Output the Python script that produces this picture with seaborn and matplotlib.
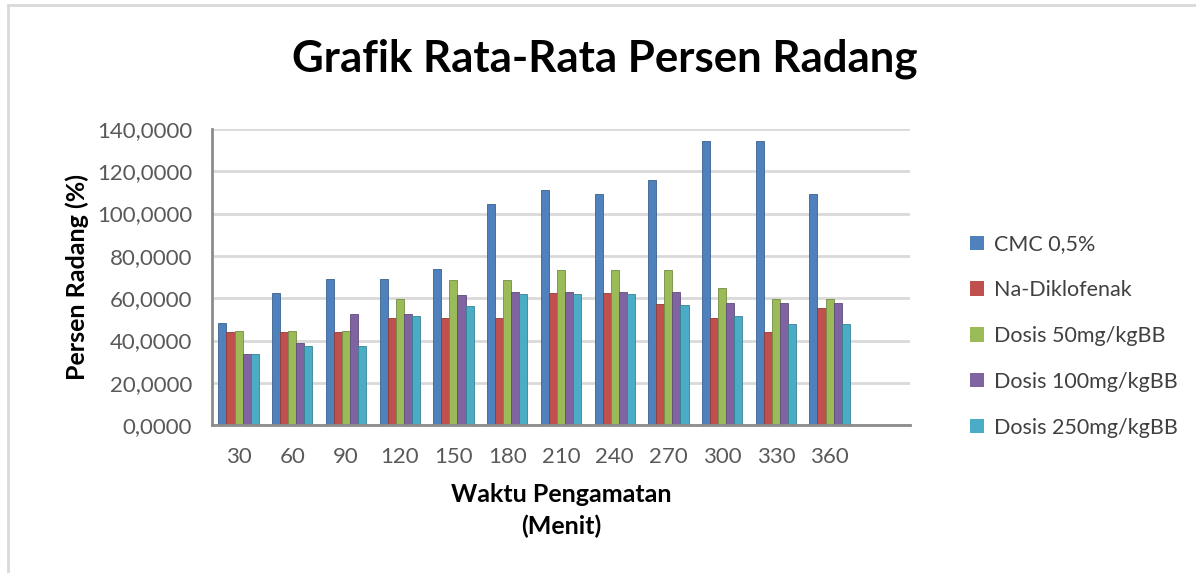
"""Grouped bar chart: average inflammation percentage over observation time."""

import numpy as np
import pandas as pd
import matplotlib
matplotlib.use("Agg")
import matplotlib.pyplot as plt
from matplotlib.ticker import FuncFormatter
from matplotlib.lines import Line2D
from matplotlib.patches import Patch
import seaborn as sns

# Data
waktu = ["30", "60", "90", "120", "150", "180", "210", "240", "270", "300", "330", "360"]
cmc = [48.3, 62.3, 69.0, 69.0, 74.0, 104.3, 111.0, 109.3, 115.7, 134.3, 134.3, 109.3]
na_diklofenak = [43.9, 43.9, 43.9, 50.6, 50.6, 50.6, 62.3, 62.3, 57.2, 50.6, 44.0, 55.6]
dosis_50 = [44.6, 44.6, 44.6, 59.7, 68.7, 68.7, 73.4, 73.4, 73.4, 64.7, 59.7, 59.7]
dosis_100 = [33.5, 38.6, 52.5, 52.5, 61.7, 62.8, 62.8, 62.8, 62.8, 57.8, 57.8, 57.8]
dosis_250 = [33.5, 37.5, 37.5, 51.7, 56.5, 62.0, 62.0, 62.0, 56.8, 51.7, 47.8, 47.8]
series_names = ["CMC 0,5%", "Na-Diklofenak", "Dosis 50mg/kgBB",
                "Dosis 100mg/kgBB", "Dosis 250mg/kgBB"]
colors = ["#4F81BD", "#C0504D", "#9BBB59", "#8064A2", "#4BACC6"]

df = pd.DataFrame({
    "Waktu": waktu * 5,
    "Perlakuan": np.repeat(series_names, len(waktu)),
    "Persen": cmc + na_diklofenak + dosis_50 + dosis_100 + dosis_250,
})

sns.set_theme(style="white")
plt.rcParams["font.family"] = ["Lato", "DejaVu Sans"]

fig = plt.figure(figsize=(11.96, 5.73), dpi=100)
ax = fig.add_axes([0.177, 0.258, 0.584, 0.517])

sns.barplot(data=df, x="Waktu", y="Persen", hue="Perlakuan", order=waktu,
            hue_order=series_names, palette=colors, width=0.75, ax=ax,
            legend=False, saturation=1, linewidth=0.6)

# darker outline per series to hint at the 3D look
for container, c in zip(ax.containers, colors):
    for bar in container:
        bar.set_edgecolor(matplotlib.colors.to_rgba(c) * np.array([0.75, 0.75, 0.75, 1]))

ax.set_xlim(-0.5, 12.5)
ax.set_ylim(0, 140)
ax.set_yticks(np.arange(0, 141, 20))
ax.yaxis.set_major_formatter(FuncFormatter(lambda v, p: f"{v:.4f}".replace(".", ",")))
ax.grid(axis="y", color="#D9D9D9", linewidth=2)
ax.set_axisbelow(True)
for side in ["top", "right"]:
    ax.spines[side].set_visible(False)
ax.spines["left"].set_color("#8C8C8C")
ax.spines["left"].set_linewidth(2)
ax.spines["bottom"].set_color("#8C8C8C")
ax.spines["bottom"].set_linewidth(2)
ax.tick_params(axis="y", length=6, width=1.5, color="#8C8C8C", direction="out",
               labelsize=16, labelcolor="#595959", pad=8)
ax.tick_params(axis="x", length=0, labelsize=16, labelcolor="#595959", pad=16)

ax.set_xlabel("Waktu Pengamatan\n(Menit)", fontsize=18, fontweight="bold",
              color="black", labelpad=11, linespacing=1.45)
ax.set_ylabel("Persen Radang (%)", fontsize=18, fontweight="bold", color="black",
              labelpad=6)

fig.text(0.506, 0.898, "Grafik Rata-Rata Persen Radang", ha="center", va="center",
         fontsize=31.5, fontweight="bold", color="black")

handles = [Patch(facecolor=c, edgecolor="none") for c in colors]
fig.legend(handles, series_names, loc="upper left", bbox_to_anchor=(0.795, 0.625),
           frameon=False, fontsize=15.5, handlelength=0.65, handleheight=0.65,
           handletextpad=0.45, labelspacing=1.2, labelcolor="#404040")

# chart-area border (top and left visible in the reference)
fig.add_artist(Line2D([0.007, 1.0], [0.992, 0.992], transform=fig.transFigure,
                      color="#D9D9D9", linewidth=2))
fig.add_artist(Line2D([0.007, 0.007], [0.0, 0.992], transform=fig.transFigure,
                      color="#D9D9D9", linewidth=2))

fig.savefig("out.png", dpi=100)
